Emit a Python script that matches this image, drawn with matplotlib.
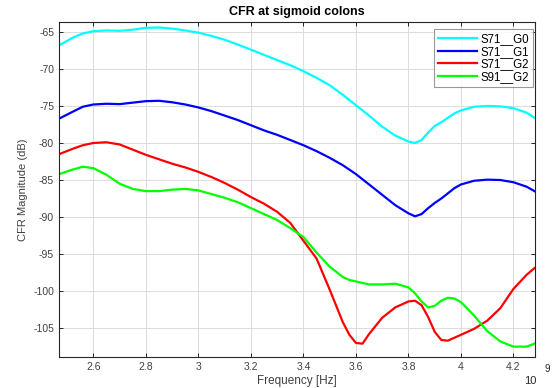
import matplotlib
matplotlib.use("Agg")
import matplotlib.pyplot as plt
from matplotlib.ticker import FuncFormatter, MultipleLocator

plt.rcParams['font.family'] = ['Liberation Sans', 'DejaVu Sans']

freq_ghz = [2.47, 2.52, 2.56, 2.60, 2.65, 2.70, 2.75, 2.80, 2.85, 2.90, 2.95,
            3.00, 3.05, 3.10, 3.15, 3.20, 3.25, 3.30, 3.35, 3.40, 3.45, 3.50,
            3.55, 3.575, 3.60, 3.625, 3.65, 3.70, 3.75, 3.80, 3.825, 3.85, 3.875,
            3.90, 3.925, 3.95, 3.975, 4.00, 4.05, 4.10, 4.15, 4.20, 4.25, 4.28]

s71_g0 = [-66.8, -65.8, -65.2, -64.9, -64.8, -64.85, -64.7, -64.45, -64.4, -64.55, -64.8,
          -65.1, -65.55, -66.05, -66.7, -67.4, -68.1, -68.8, -69.5, -70.3, -71.2, -72.2,
          -73.5, -74.2, -74.9, -75.6, -76.3, -77.8, -79.0, -79.8, -80.0, -79.6, -78.6,
          -77.7, -77.2, -76.6, -76.0, -75.6, -75.1, -75.0, -75.05, -75.3, -75.9, -76.6]

s71_g1 = [-76.7, -75.8, -75.1, -74.8, -74.7, -74.75, -74.55, -74.35, -74.3, -74.5, -74.8,
          -75.2, -75.7, -76.3, -76.9, -77.6, -78.3, -78.9, -79.6, -80.3, -81.1, -82.0,
          -83.0, -83.6, -84.2, -84.9, -85.6, -87.0, -88.4, -89.5, -89.9, -89.6, -88.8,
          -88.1, -87.5, -86.8, -86.1, -85.6, -85.1, -84.95, -85.0, -85.3, -85.9, -86.5]

s71_g2 = [-81.5, -80.8, -80.3, -80.0, -79.9, -80.2, -80.9, -81.6, -82.2, -82.8, -83.3,
          -83.9, -84.6, -85.4, -86.3, -87.3, -88.2, -89.3, -90.8, -93.2, -95.6, -99.8,
          -104.2, -105.9, -107.0, -107.1, -105.8, -103.6, -102.2, -101.4, -101.3, -101.9, -103.5,
          -105.5, -106.6, -106.7, -106.3, -105.9, -105.1, -104.0, -102.3, -99.7, -97.8, -96.9]

s91_g2 = [-84.2, -83.6, -83.2, -83.4, -84.3, -85.5, -86.2, -86.5, -86.5, -86.3, -86.2,
          -86.4, -86.9, -87.4, -88.0, -88.8, -89.6, -90.4, -91.5, -92.7, -94.8, -96.7,
          -98.1, -98.5, -98.7, -98.9, -99.1, -99.1, -99.0, -99.5, -100.3, -101.4, -102.2,
          -102.0, -101.3, -100.9, -101.0, -101.5, -103.3, -105.4, -106.8, -107.5, -107.5, -107.1]

labels = ['S71__G0', 'S71__G1', 'S71__G2', 'S91__G2']
colors = ['#00FFFF', '#0000FF', '#FF0000', '#00FF00']
series = [s71_g0, s71_g1, s71_g2, s91_g2]

freq_hz = [f * 1e9 for f in freq_ghz]

fig = plt.figure(figsize=(5.52, 3.88), dpi=100)
ax = fig.add_axes([59/552, 31/388, (535-59)/552, (357-22)/388])

for y, c, lab in zip(series, colors, labels):
    ax.plot(freq_hz, y, color=c, lw=1.6, label=lab)

ax.set_xlim(2.469e9, 4.282e9)
ax.set_ylim(-108.9, -63.66)
ax.xaxis.set_major_locator(MultipleLocator(0.2e9))
ax.yaxis.set_major_locator(MultipleLocator(5))
ax.xaxis.set_major_formatter(FuncFormatter(lambda v, p: f"{v/1e9:g}"))
ax.yaxis.set_major_formatter(FuncFormatter(lambda v, p: f"{v:g}"))

ax.grid(True, color='#dcdcdc', lw=0.7)
ax.set_axisbelow(True)
for s in ax.spines.values():
    s.set_color('#262626')
    s.set_linewidth(0.8)
ax.tick_params(direction='in', top=True, right=True, length=3, width=0.7,
               labelsize=7.5, labelcolor='#404040', color='#262626')

ax.set_title('CFR at sigmoid colons', fontsize=9, fontweight='bold', pad=5)
ax.set_xlabel('Frequency [Hz]', fontsize=8.5, color='#404040', labelpad=2)
ax.set_ylabel('CFR Magnitude (dB)', fontsize=8, color='#404040', labelpad=4)

fig.text(530/552, 1 - 381/388, '10', fontsize=8, ha='center', va='center', color='#262626')
fig.text(547/552, 1 - 369/388, '9', fontsize=7, ha='center', va='center', color='#262626')

leg = ax.legend(loc='upper right', bbox_to_anchor=((533-59)/476, (357-29)/335),
                borderaxespad=0, fontsize=8.3, frameon=True, fancybox=False,
                labelspacing=0.05, borderpad=0.35, handlelength=3.4, handletextpad=0.3,
                edgecolor='#808080')
leg.get_frame().set_linewidth(0.8)

fig.savefig('out.png', dpi=100, facecolor='white')
